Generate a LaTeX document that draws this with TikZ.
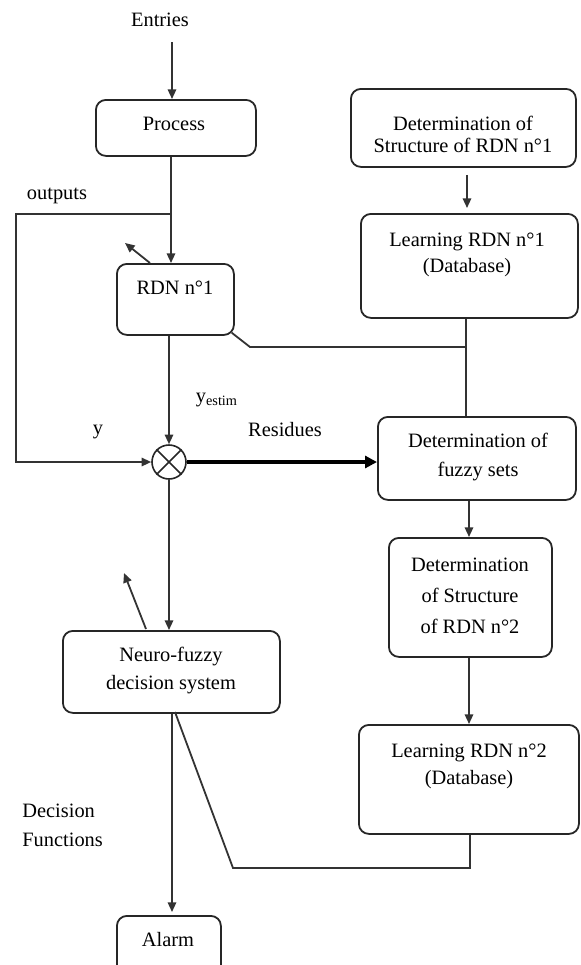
\documentclass[tikz,border=0pt]{standalone}
\usepackage{fontspec}
\setmainfont{Liberation Serif}
\usetikzlibrary{arrows.meta}
\begin{document}
\begin{tikzpicture}[x=0.5pt,y=-0.5pt]
\tikzset{
  ln/.style={draw=black!80, line width=0.9pt},
  arr/.style={ln, -{Triangle[length=4.8pt,width=4.2pt]}},
  bigarr/.style={draw=black, line width=2pt, -{Triangle[length=6pt,width=6pt]}},
  box/.style={draw=black!85, line width=0.9pt, rounded corners=5pt, anchor=north west, inner sep=0pt},
  txt/.style={font=\fontsize{10.2}{12}\selectfont, text=black, inner sep=0pt},
  lead/.style={font=\fontsize{10.2}{#1}\selectfont, align=center},
}
\useasboundingbox (0,0) rectangle (581,965);
% boxes
\node[box, minimum width=80pt, minimum height=28pt] (proc) at (95,99) {};
\node[txt] (proct) at (174,124) {Process};
\node[box, minimum width=58.5pt, minimum height=35.5pt] (rdn1) at (116,263) {};
\node[txt] (rdn1t) at (175,288) {RDN n°1};
\node[box, minimum width=112.5pt, minimum height=39pt] (ds1) at (350,88) {};
\node[txt, lead=11pt] (ds1t) at (463,134) {Determination of\\Structure of RDN n°1};
\node[box, minimum width=108.5pt, minimum height=52pt] (lr1) at (360,213) {};
\node[txt, lead=13pt] (lr1t) at (467,255) {Learning RDN n°1\\(Database)};
\node[box, minimum width=99pt, minimum height=41.5pt] (fz) at (377,416) {};
\node[txt, lead=14.5pt] (fzt) at (478,457) {Determination of\\fuzzy sets};
\node[box, minimum width=81.5pt, minimum height=59.5pt] (ds2) at (388,537) {};
\node[txt, lead=15.5pt] (ds2t) at (470,596) {Determination\\of Structure\\of RDN n°2};
\node[box, minimum width=110pt, minimum height=54.5pt] (lr2) at (358,724) {};
\node[txt, lead=13.5pt] (lr2t) at (469,766) {Learning RDN n°2\\(Database)};
\node[box, minimum width=108.5pt, minimum height=41pt] (nf) at (62,630) {};
\node[txt, lead=14pt] (nft) at (171,671) {Neuro-fuzzy\\decision system};
\node[box, minimum width=52pt, minimum height=30pt] (alarm) at (116,915) {};
\node[txt] (alarmt) at (168,940) {Alarm};
\node[circle, draw=black!85, line width=0.8pt, minimum size=17pt, inner sep=0pt] (cx) at (169,462) {};
\draw[line width=0.8pt, black!85] (cx.north west) -- (cx.south east) (cx.north east) -- (cx.south west);
% labels
\node[txt] (entries) at (160,20) {Entries};
\node[txt] (outputs) at (57,196) {outputs};
\node[txt] (ylab) at (98,432) {y};
\node[txt] (yest) at (217,400) {y\textsubscript{estim}};
\node[txt] (resid) at (285,430) {Residues};
\node[txt, lead=14.5pt, align=left, anchor=west] (dec) at (22,825) {Decision\\Functions};
% coordinates
\coordinate (entTop) at (172,42);
\coordinate (jn) at (171,214);
\coordinate (lc) at (16,214);
\coordinate (ul1s) at (150,263);
\coordinate (ul1e) at (125,243);
\coordinate (k1) at (250,347);
\coordinate (j1) at (466,347);
\coordinate (xr1) at (467,0);
\coordinate (xr2) at (469,0);
\coordinate (ul2s) at (146,629);
\coordinate (ul2e) at (124,573);
\coordinate (xc) at (172,0);
\coordinate (b1) at (470,868);
\coordinate (b2) at (233,868);
\coordinate (b3) at (175,712);
% connectors
\draw[arr] (entTop) -- (entTop |- proc.north);
\draw[arr] (jn |- proc.south) -- (jn |- rdn1.north);
\draw[arr] (jn) -- (lc) |- (cx.west);
\draw[arr] (ul1s) -- (ul1e);
\draw[ln] ([xshift=-1.5pt,yshift=1.5pt]rdn1.south east) -- (k1) -- (j1);
\draw[ln] (j1 |- lr1.south) -- (j1 |- fz.north);
\draw[arr, shorten <=3.5pt, shorten >=2.5pt] (xr1 |- ds1.south) -- (xr1 |- lr1.north);
\draw[arr] (cx.north |- rdn1.south) -- (cx.north);
\draw[bigarr] (cx.east) -- (cx.east -| fz.west);
\draw[arr] (xr2 |- fz.south) -- (xr2 |- ds2.north);
\draw[arr] (xr2 |- ds2.south) -- (xr2 |- lr2.north);
\draw[arr] (cx.south) -- (cx.south |- nf.north);
\draw[arr] (ul2s) -- (ul2e);
\draw[arr, shorten >=1.5pt] (xc |- nf.south) -- (xc |- alarm.north);
\draw[ln] (b1 |- lr2.south) -- (b1) -- (b2) -- (b3);
\end{tikzpicture}
\end{document}
